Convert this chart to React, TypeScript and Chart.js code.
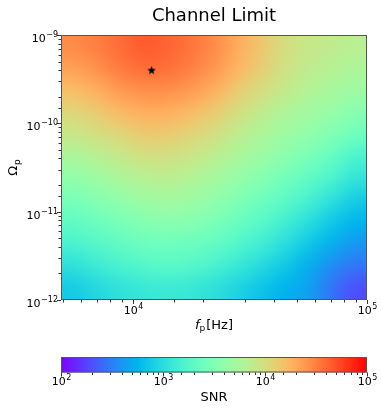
import React, { useEffect, useRef } from 'react';
import { Chart, registerables } from 'chart.js';

Chart.register(...registerables);

// ---------- data ----------
const chartTitle = 'Channel Limit';
const xAxisMin = 4920; // f_p [Hz]
const xAxisMax = 1e5;
const yAxisMin = 1e-12; // Omega_p
const yAxisMax = 1e-9;
const snrMin = 1e2;
const snrMax = 1e5;

// cell edges of the SNR grid (log10)
const logFreqEdges = [3.69, 3.79, 3.89, 3.99, 4.09, 4.19, 4.29, 4.39, 4.49, 4.59, 4.69, 4.79, 4.89, 5.0];
const logOmegaEdges = [-9, -9.25, -9.5, -9.75, -10, -10.25, -10.5, -10.75, -11, -11.25, -11.5, -11.75, -12];

// log10(SNR), rows from Omega_p = 1e-9 (top) to 1e-12 (bottom), columns from low to high f_p
const logSNR: number[][] = [
  [4.45, 4.5, 4.58, 4.65, 4.62, 4.55, 4.45, 4.3, 4.15, 4.0, 3.92, 3.88, 3.83],
  [4.35, 4.42, 4.52, 4.58, 4.57, 4.5, 4.4, 4.25, 4.1, 3.97, 3.88, 3.82, 3.77],
  [4.2, 4.28, 4.38, 4.43, 4.43, 4.38, 4.28, 4.12, 4.0, 3.9, 3.8, 3.74, 3.68],
  [4.05, 4.12, 4.22, 4.28, 4.28, 4.22, 4.12, 4.0, 3.88, 3.78, 3.7, 3.63, 3.55],
  [3.92, 3.98, 4.05, 4.12, 4.12, 4.06, 3.98, 3.87, 3.77, 3.68, 3.6, 3.5, 3.4],
  [3.75, 3.82, 3.9, 3.97, 3.98, 3.93, 3.85, 3.75, 3.66, 3.57, 3.46, 3.35, 3.2],
  [3.6, 3.67, 3.75, 3.82, 3.84, 3.8, 3.72, 3.63, 3.53, 3.43, 3.32, 3.2, 3.05],
  [3.45, 3.52, 3.6, 3.67, 3.7, 3.67, 3.6, 3.5, 3.4, 3.3, 3.17, 3.02, 2.88],
  [3.32, 3.38, 3.45, 3.52, 3.55, 3.53, 3.47, 3.37, 3.27, 3.15, 3.0, 2.85, 2.75],
  [3.18, 3.25, 3.32, 3.38, 3.4, 3.38, 3.33, 3.24, 3.13, 3.0, 2.85, 2.72, 2.6],
  [3.02, 3.1, 3.18, 3.24, 3.27, 3.25, 3.18, 3.08, 2.97, 2.85, 2.72, 2.55, 2.45],
  [2.88, 2.96, 3.03, 3.08, 3.1, 3.08, 3.02, 2.93, 2.83, 2.75, 2.65, 2.45, 2.3],
];

// marked best point
const markerFreq = [12000];
const markerOmega = [4e-10];

const FONT = '"DejaVu Sans", sans-serif';

// ---------- helpers ----------
function rainbow(t: number): [number, number, number] {
  const u = Math.max(0, Math.min(1, t));
  const r = Math.min(1, Math.abs(2 * u - 0.5));
  const g = Math.max(0, Math.sin(u * Math.PI));
  const b = Math.max(0, Math.cos((u * Math.PI) / 2));
  return [Math.round(r * 255), Math.round(g * 255), Math.round(b * 255)];
}
function snrToT(logVal: number) {
  return (logVal - Math.log10(snrMin)) / (Math.log10(snrMax) - Math.log10(snrMin));
}
function isDecade(v: number) {
  const l = Math.log10(v);
  return Math.abs(l - Math.round(l)) < 1e-6;
}
function expString(v: number) {
  const e = Math.round(Math.log10(v));
  return e < 0 ? '\u2212' + String(-e) : String(e);
}
function drawPow(ctx: CanvasRenderingContext2D, exp: string, x: number, baseY: number, align: 'center' | 'right') {
  const baseFont = `11px ${FONT}`;
  const expFont = `8px ${FONT}`;
  ctx.font = baseFont;
  const wb = ctx.measureText('10').width;
  ctx.font = expFont;
  const we = ctx.measureText(exp).width;
  const total = wb + we + 0.5;
  const left = align === 'center' ? x - total / 2 : x - total;
  ctx.textAlign = 'left';
  ctx.textBaseline = 'alphabetic';
  ctx.fillStyle = '#000';
  ctx.font = baseFont;
  ctx.fillText('10', left, baseY);
  ctx.font = expFont;
  ctx.fillText(exp, left + wb + 0.5, baseY - 4.8);
}
function makeStar(size: number) {
  const c = document.createElement('canvas');
  c.width = size;
  c.height = size;
  const g = c.getContext('2d')!;
  const cx = size / 2;
  const cy = size / 2 + 0.4;
  const R = size / 2;
  const r = R * 0.42;
  g.beginPath();
  for (let i = 0; i < 10; i++) {
    const a = -Math.PI / 2 + (i * Math.PI) / 5;
    const rad = i % 2 === 0 ? R : r;
    g.lineTo(cx + rad * Math.cos(a), cy + rad * Math.sin(a));
  }
  g.closePath();
  g.fillStyle = '#000';
  g.fill();
  return c;
}

// ---------- plugins ----------
const heatmapPlugin = {
  id: 'heatmap',
  beforeDatasetsDraw(chart: any) {
    const { ctx, chartArea } = chart;
    const xs = chart.scales.x;
    const ys = chart.scales.y;
    const nx = logFreqEdges.length - 1;
    const ny = logOmegaEdges.length - 1;
    const off = document.createElement('canvas');
    off.width = nx;
    off.height = ny;
    const octx = off.getContext('2d')!;
    const img = octx.createImageData(nx, ny);
    for (let j = 0; j < ny; j++) {
      for (let i = 0; i < nx; i++) {
        const [r, g, b] = rainbow(snrToT(logSNR[j][i]));
        const k = (j * nx + i) * 4;
        img.data[k] = r;
        img.data[k + 1] = g;
        img.data[k + 2] = b;
        img.data[k + 3] = 255;
      }
    }
    octx.putImageData(img, 0, 0);
    const x0 = xs.getPixelForValue(Math.pow(10, logFreqEdges[0]));
    const x1 = xs.getPixelForValue(Math.pow(10, logFreqEdges[nx]));
    const y0 = ys.getPixelForValue(Math.pow(10, logOmegaEdges[0]));
    const y1 = ys.getPixelForValue(Math.pow(10, logOmegaEdges[ny]));
    ctx.save();
    ctx.beginPath();
    ctx.rect(chartArea.left, chartArea.top, chartArea.right - chartArea.left, chartArea.bottom - chartArea.top);
    ctx.clip();
    ctx.imageSmoothingEnabled = true;
    (ctx as any).imageSmoothingQuality = 'high';
    ctx.drawImage(off, x0, y0, x1 - x0, y1 - y0);
    ctx.restore();
  },
};

const axesPlugin = {
  id: 'axesDecor',
  afterDraw(chart: any) {
    const { ctx, chartArea } = chart;
    const xs = chart.scales.x;
    const ys = chart.scales.y;
    const { left, right, top, bottom } = chartArea;
    ctx.save();
    // frame
    ctx.strokeStyle = '#555';
    ctx.lineWidth = 1;
    ctx.strokeRect(left + 0.5, top + 0.5, right - left - 1, bottom - top - 1);
    // x ticks
    ctx.strokeStyle = '#333';
    for (const t of xs.ticks) {
      const v = t.value;
      if (v < xAxisMin * 1.001 || v > xAxisMax * 1.0001) continue;
      const px = Math.round(xs.getPixelForValue(v)) + 0.5;
      const major = isDecade(v);
      ctx.beginPath();
      ctx.moveTo(px, bottom);
      ctx.lineTo(px, bottom + (major ? 4 : 2.5));
      ctx.stroke();
      if (major) drawPow(ctx, expString(v), px, bottom + 13.5, 'center');
    }
    // y ticks
    for (const t of ys.ticks) {
      const v = t.value;
      if (v < yAxisMin * 0.999 || v > yAxisMax * 1.001) continue;
      const py = Math.round(ys.getPixelForValue(v)) + 0.5;
      const major = isDecade(v);
      ctx.beginPath();
      ctx.moveTo(left, py);
      ctx.lineTo(left - (major ? 4 : 2.5), py);
      ctx.stroke();
      if (major) drawPow(ctx, expString(v), left - 3, py + 6, 'right');
    }
    // title
    ctx.fillStyle = '#000';
    ctx.textAlign = 'center';
    ctx.textBaseline = 'alphabetic';
    ctx.font = `18px ${FONT}`;
    ctx.fillText(chartTitle, (left + right) / 2, 21);
    // x axis title: f_p[Hz]
    const cx = (left + right) / 2;
    const fFont = `italic 13px ${FONT}`;
    const subFont = `9px ${FONT}`;
    const nFont = `13px ${FONT}`;
    ctx.font = fFont;
    const wf = ctx.measureText('f').width;
    ctx.font = subFont;
    const wp = ctx.measureText('p').width;
    ctx.font = nFont;
    const wh = ctx.measureText('[Hz]').width;
    let xx = cx - (wf + wp + wh + 1) / 2;
    const by = bottom + 28.5;
    ctx.textAlign = 'left';
    ctx.font = fFont;
    ctx.fillText('f', xx, by);
    xx += wf;
    ctx.font = subFont;
    ctx.fillText('p', xx, by + 2.5);
    xx += wp + 1;
    ctx.font = nFont;
    ctx.fillText('[Hz]', xx, by);
    // y axis title: Omega_p (rotated)
    ctx.save();
    ctx.translate(17, (top + bottom) / 2);
    ctx.rotate(-Math.PI / 2);
    ctx.font = nFont;
    const wo = ctx.measureText('\u03A9').width;
    ctx.font = subFont;
    const wp2 = ctx.measureText('p').width;
    let yy = -(wo + wp2 + 1) / 2;
    ctx.font = nFont;
    ctx.fillText('\u03A9', yy, 0);
    yy += wo + 1;
    ctx.font = subFont;
    ctx.fillText('p', yy, 2.5);
    ctx.restore();
    ctx.restore();
  },
};

const colorbarPlugin = {
  id: 'colorbar',
  afterDraw(chart: any) {
    const { ctx, chartArea } = chart;
    const xs = chart.scales.x;
    const { left, right, top, bottom } = chartArea;
    ctx.save();
    for (let px = Math.floor(left); px < Math.ceil(right); px++) {
      const v = xs.getValueForPixel(px + 0.5);
      const [r, g, b] = rainbow(snrToT(Math.log10(v)));
      ctx.fillStyle = `rgb(${r},${g},${b})`;
      ctx.fillRect(px, top, 1, bottom - top);
    }
    ctx.strokeStyle = '#555';
    ctx.lineWidth = 1;
    ctx.strokeRect(left + 0.5, top + 0.5, right - left - 1, bottom - top - 1);
    ctx.strokeStyle = '#333';
    for (const t of xs.ticks) {
      const v = t.value;
      if (v < snrMin * 0.999 || v > snrMax * 1.001) continue;
      const px = Math.round(xs.getPixelForValue(v)) + 0.5;
      const major = isDecade(v);
      ctx.beginPath();
      ctx.moveTo(px, bottom);
      ctx.lineTo(px, bottom + (major ? 4 : 2.5));
      ctx.stroke();
      if (major) drawPow(ctx, expString(v), px, bottom + 12.5, 'center');
    }
    ctx.fillStyle = '#000';
    ctx.textAlign = 'center';
    ctx.font = `13px ${FONT}`;
    ctx.fillText('SNR', (left + right) / 2, bottom + 28.5);
    ctx.restore();
  },
};

export default function App() {
  const mainRef = useRef<HTMLCanvasElement>(null);
  const cbRef = useRef<HTMLCanvasElement>(null);

  useEffect(() => {
    const star = makeStar(9);
    const main = new Chart(mainRef.current!, {
      type: 'scatter',
      data: {
        datasets: [
          {
            data: markerFreq.map((f, i) => ({ x: f, y: markerOmega[i] })),
            pointStyle: star as any,
            pointRadius: 5,
            backgroundColor: '#000',
            borderColor: '#000',
          },
        ],
      },
      options: {
        animation: false,
        responsive: false,
        devicePixelRatio: 1,
        layout: { padding: { top: 35, right: 15, left: 0, bottom: 0 } },
        plugins: { legend: { display: false }, tooltip: { enabled: false }, title: { display: false } },
        scales: {
          x: {
            type: 'logarithmic',
            min: xAxisMin,
            max: xAxisMax,
            grid: { display: false },
            border: { display: false },
            ticks: { display: false },
            afterFit: (s: any) => {
              s.height = 40;
            },
          },
          y: {
            type: 'logarithmic',
            min: yAxisMin,
            max: yAxisMax,
            grid: { display: false },
            border: { display: false },
            ticks: { display: false },
            afterFit: (s: any) => {
              s.width = 61;
            },
          },
        },
      } as any,
      plugins: [heatmapPlugin, axesPlugin],
    });

    const cb = new Chart(cbRef.current!, {
      type: 'scatter',
      data: { datasets: [{ data: [] }] },
      options: {
        animation: false,
        responsive: false,
        devicePixelRatio: 1,
        layout: { padding: { top: 17, right: 15, left: 61, bottom: 0 } },
        plugins: { legend: { display: false }, tooltip: { enabled: false } },
        scales: {
          x: {
            type: 'logarithmic',
            min: snrMin,
            max: snrMax,
            grid: { display: false },
            border: { display: false },
            ticks: { display: false },
            afterFit: (s: any) => {
              s.height = 47.5;
            },
          },
          y: { display: false },
        },
      } as any,
      plugins: [colorbarPlugin],
    });

    return () => {
      main.destroy();
      cb.destroy();
    };
  }, []);

  return (
    <div style={{ position: 'absolute', left: 0, top: 0, width: 382, height: 420, background: '#fff' }}>
      <canvas ref={mainRef} width={382} height={340} style={{ position: 'absolute', left: 0, top: 0, width: 382, height: 340 }} />
      <canvas ref={cbRef} width={382} height={80} style={{ position: 'absolute', left: 0, top: 340, width: 382, height: 80 }} />
    </div>
  );
}
